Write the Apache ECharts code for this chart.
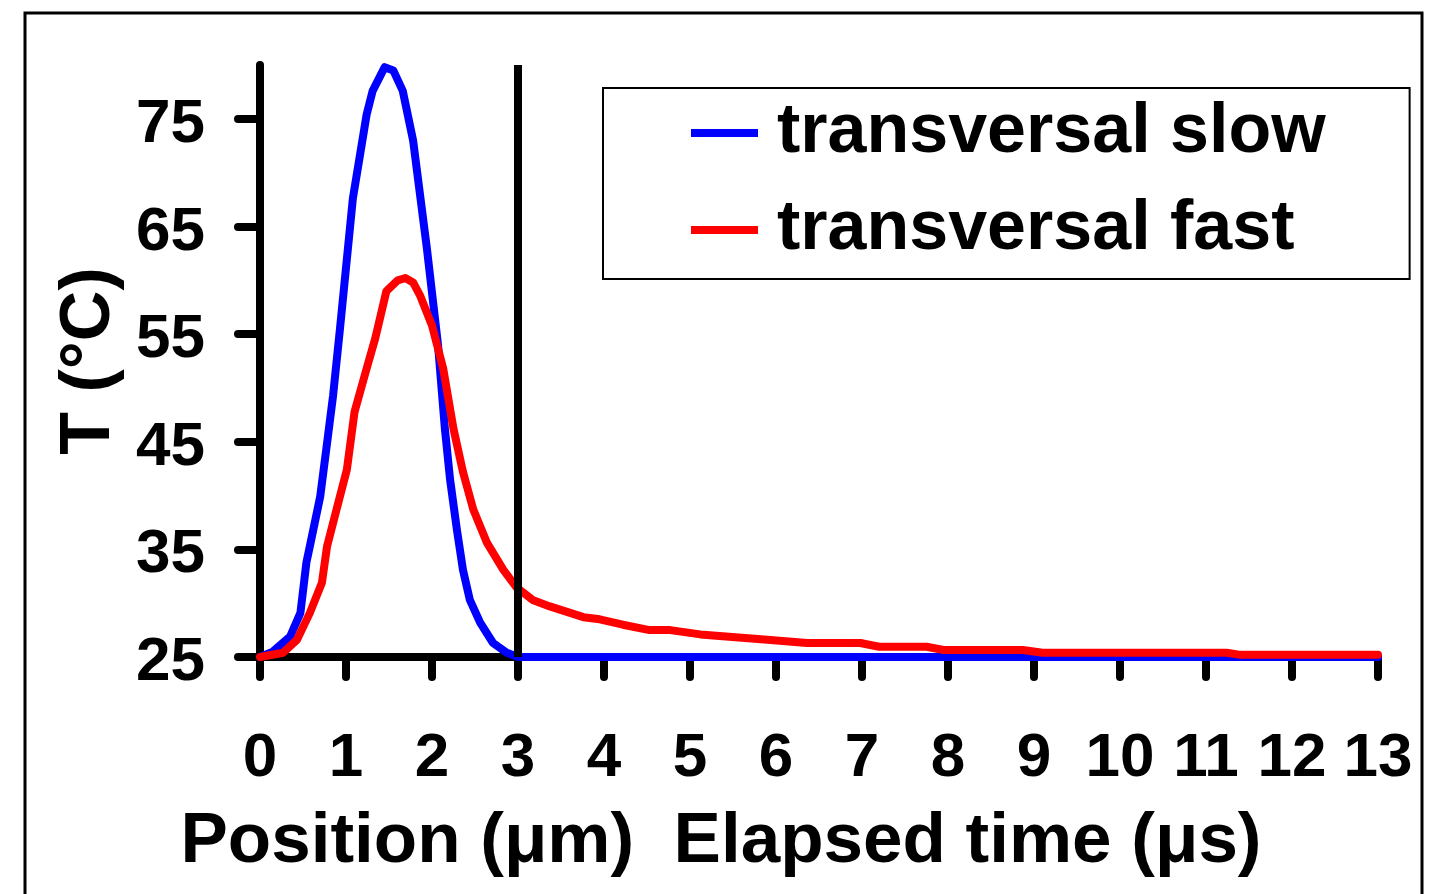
<!DOCTYPE html>
<html>
<head>
<meta charset="utf-8">
<script src="https://cdn.jsdelivr.net/npm/echarts@6/dist/echarts.min.js"></script>
<style>
  html, body { margin: 0; padding: 0; background: #fff; }
  #chart { width: 1435px; height: 894px; }
</style>
</head>
<body>
<div id="chart"></div>
<script>
// values
var slowX = [0, 0.15, 0.35, 0.47, 0.54, 0.58, 0.70, 0.79, 0.85, 0.93, 1.08, 1.24, 1.31, 1.45, 1.55, 1.66, 1.78, 1.94, 2.07, 2.15, 2.21, 2.29, 2.36, 2.44, 2.56, 2.71, 2.87, 3, 13];
var slowT = [25, 25.5, 26.9, 29.1, 33.8, 35.3, 39.9, 45.5, 49.3, 55.5, 67.6, 75.4, 77.6, 79.8, 79.5, 77.6, 73, 63, 54, 46.2, 41.5, 36.8, 33.1, 30.3, 28.2, 26.3, 25.4, 25, 25];

var fastX = [0, 0.27, 0.43, 0.58, 0.72, 0.78, 0.89, 1.01, 1.10, 1.24, 1.34, 1.47, 1.6, 1.69, 1.78, 1.86, 2.0, 2.13, 2.25, 2.36, 2.48, 2.64, 2.83, 2.98, 3.17, 3.37, 3.76, 3.95, 4.22, 4.53, 4.77, 5.12, 5.9, 6.36, 6.98, 7.2, 7.75, 7.95, 8.87, 9.1, 11.24, 11.4, 13];
var fastT = [25, 25.4, 26.6, 29.1, 31.9, 35.3, 38.7, 42.4, 47.8, 51.8, 54.6, 59, 60, 60.2, 59.8, 58.6, 55.8, 51.8, 46.2, 42.2, 38.7, 35.6, 33.1, 31.5, 30.3, 29.7, 28.7, 28.5, 28, 27.5, 27.5, 27.1, 26.6, 26.3, 26.3, 25.95, 25.95, 25.65, 25.65, 25.4, 25.4, 25.2, 25.2];

var yTicks = [25, 35, 45, 55, 65, 75];
var seriesNames = ['transversal slow', 'transversal fast'];

var font = 'Liberation Sans, Arial, sans-serif';

function pairs(xs, ys) {
    return xs.map(function(x, i) { return [x, ys[i]]; });
}

var myChart = echarts.init(document.getElementById('chart'));

var option = {
    animation: false,
    backgroundColor: '#fff',
    graphic: [{
        type: 'rect',
        shape: { x: 25, y: 13, width: 1397, height: 900 },
        style: { fill: 'none', stroke: '#000', lineWidth: 3 },
        silent: true
    }],
    grid: { left: 260, right: 57, top: 65, bottom: 237 },
    legend: {
        orient: 'vertical',
        left: 603,
        top: 88,
        padding: [10, 84, 14, 88],
        itemGap: 27,
        itemWidth: 67,
        itemHeight: 8,
        icon: 'rect',
        borderColor: '#000',
        borderWidth: 2,
        data: seriesNames,
        textStyle: {
            fontFamily: font,
            fontWeight: 'bold',
            fontSize: 70,
            color: '#000',
            padding: [0, 0, 0, 14]
        }
    },
    xAxis: {
        type: 'value',
        min: 0,
        max: 13,
        interval: 1,
        name: 'Position (μm)  Elapsed time (μs)',
        nameLocation: 'middle',
        nameGap: 150,
        nameTextStyle: {
            fontFamily: font,
            fontWeight: 'bold',
            fontSize: 71,
            color: '#000',
            padding: [0, 196, 0, 0]
        },
        axisLine: { lineStyle: { color: '#000', width: 8, cap: 'round' } },
        axisTick: { length: 20, lineStyle: { color: '#000', width: 8, cap: 'round' } },
        axisLabel: {
            margin: 71,
            fontFamily: font,
            fontWeight: 'bold',
            fontSize: 62,
            color: '#000'
        },
        splitLine: { show: false }
    },
    yAxis: {
        type: 'value',
        min: 25,
        max: 80,
        name: 'T (°C)',
        nameLocation: 'middle',
        nameRotate: 90,
        nameGap: 135,
        nameTextStyle: {
            fontFamily: font,
            fontWeight: 'bold',
            fontSize: 70,
            color: '#000'
        },
        axisLine: { show: true, lineStyle: { color: '#000', width: 8, cap: 'round' } },
        axisTick: { show: true, customValues: yTicks, length: 22, lineStyle: { color: '#000', width: 8, cap: 'round' } },
        axisLabel: {
            customValues: yTicks,
            margin: 55,
            formatter: '{v|{value}}',
            rich: {
                v: {
                    fontFamily: font,
                    fontWeight: 'bold',
                    fontSize: 62,
                    color: '#000',
                    padding: [12, 0, 0, 0]
                }
            }
        },
        splitLine: { show: false }
    },
    series: [
        {
            name: seriesNames[0],
            type: 'line',
            data: pairs(slowX, slowT),
            showSymbol: false,
            color: '#0000ff',
            lineStyle: { color: '#0000ff', width: 8, cap: 'round', join: 'round' },
            z: 2
        },
        {
            name: seriesNames[1],
            type: 'line',
            data: pairs(fastX, fastT),
            showSymbol: false,
            color: '#ff0000',
            lineStyle: { color: '#ff0000', width: 8, cap: 'round', join: 'round' },
            z: 3
        },
        {
            name: 'divider',
            type: 'line',
            data: [],
            z: 5,
            markLine: {
                silent: true,
                symbol: 'none',
                label: { show: false },
                lineStyle: { color: '#000', width: 8, type: 'solid' },
                data: [{ xAxis: 3 }]
            }
        }
    ]
};

myChart.setOption(option);

window.addEventListener('resize', function() {
    myChart.resize();
});
</script>
</body>
</html>
